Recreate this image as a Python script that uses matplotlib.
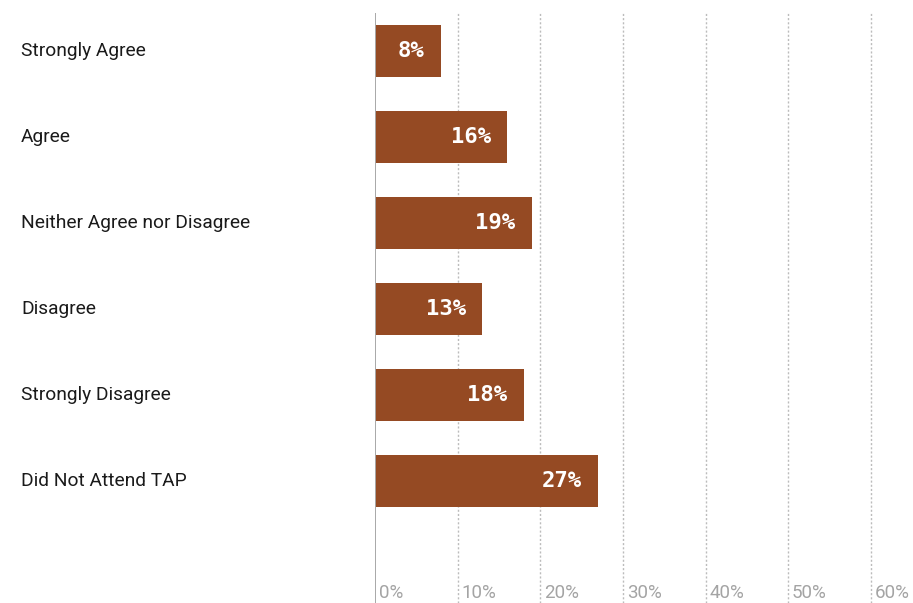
import matplotlib.pyplot as plt

categories = ['Strongly Agree', 'Agree', 'Neither Agree nor Disagree',
              'Disagree', 'Strongly Disagree', 'Did Not Attend TAP']
values = [8, 16, 19, 13, 18, 27]
ticks = [0, 10, 20, 30, 40, 50, 60]

bar_color = '#954A23'
grid_color = '#bcbcbc'

fig = plt.figure(figsize=(9.13, 6.03), dpi=100)
xmax = 60.4
ax = fig.add_axes([375 / 913, 0, 496 / 60 * xmax / 913, 590 / 603])

ypos = list(range(len(categories)))
ax.barh(ypos, values, height=0.6, color=bar_color, zorder=3)
ax.set_xlim(0, xmax)
ax.set_ylim(len(categories) + 0.42, -0.44)

# dotted gridlines at every 10%
for t in ticks[1:]:
    ax.axvline(t, color=grid_color, lw=1.0, ls=(0, (1.5, 1.5)), zorder=1)
ax.axvline(0, color='#a8a8a8', lw=1.4, zorder=4)

for s in ax.spines.values():
    s.set_visible(False)
ax.set_xticks([])
ax.set_yticks([])

# tick labels sit inside the plot, just right of each gridline
for t in ticks:
    ax.text(t + 0.45, len(categories) + 0.3, f'{t}%', ha='left', va='center',
            color='#a4a4a4', fontsize=13.5, family='Roboto')

# value labels inside the bars
for y, v in zip(ypos, values):
    ax.text(v - 2.0, y, f'{v}%', ha='right', va='center', color='white',
            fontsize=16, family='DejaVu Sans Mono', fontweight='bold', zorder=5)

# category labels on the far left
for y, c in zip(ypos, categories):
    ax.annotate(c, xy=(21 / 913, y), xycoords=('figure fraction', 'data'),
                ha='left', va='center', fontsize=13.8, family='Roboto',
                color='#1a1a1a', annotation_clip=False)

fig.savefig('out.png', dpi=100)
